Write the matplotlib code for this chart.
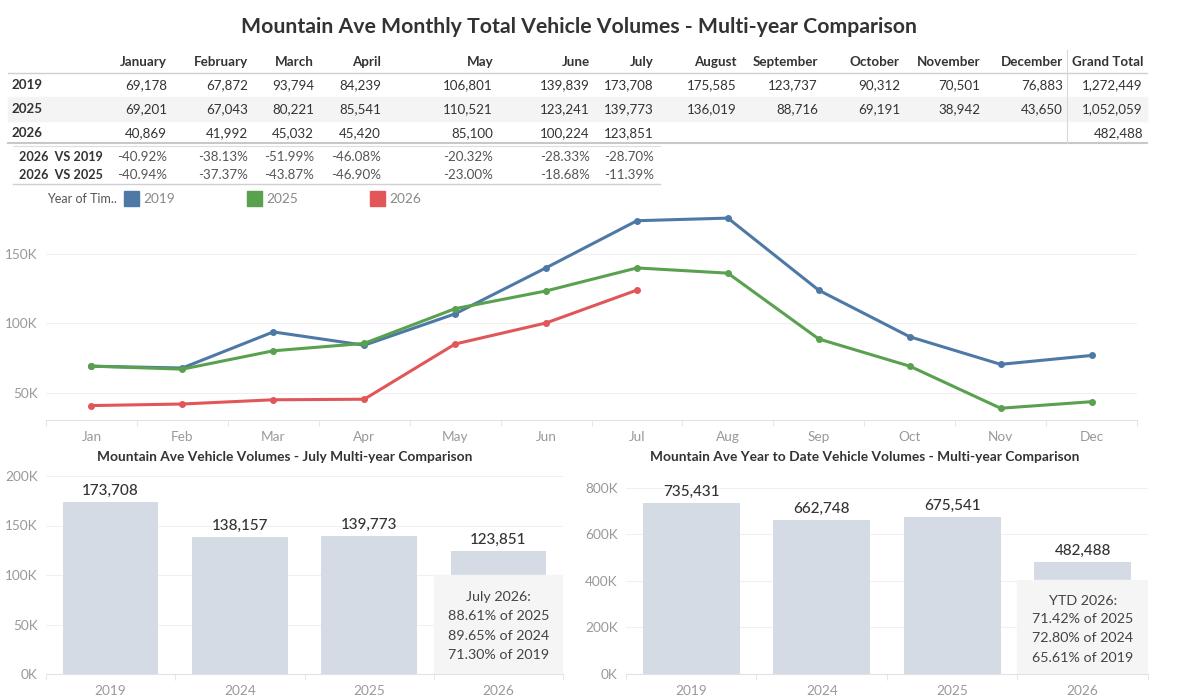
import matplotlib.pyplot as plt
from matplotlib.patches import Rectangle
from matplotlib.ticker import FuncFormatter, FixedLocator

plt.rcParams['font.family'] = ['Lato', 'DejaVu Sans']

# monthly totals
months = ['January', 'February', 'March', 'April', 'May', 'June', 'July',
          'August', 'September', 'October', 'November', 'December']
months_short = ['Jan', 'Feb', 'Mar', 'Apr', 'May', 'Jun', 'Jul',
                'Aug', 'Sep', 'Oct', 'Nov', 'Dec']
vol_2019 = [69178, 67872, 93794, 84239, 106801, 139839, 173708,
            175585, 123737, 90312, 70501, 76883]
vol_2025 = [69201, 67043, 80221, 85541, 110521, 123241, 139773,
            136019, 88716, 69191, 38942, 43650]
vol_2026 = [40869, 41992, 45032, 45420, 85100, 100224, 123851]
grand_total = [1272449, 1052059, 482488]
vs_2019 = [-40.92, -38.13, -51.99, -46.08, -20.32, -28.33, -28.70]
vs_2025 = [-40.94, -37.37, -43.87, -46.90, -23.00, -18.68, -11.39]

# bar charts
bar_years = ['2019', '2024', '2025', '2026']
july_vals = [173708, 138157, 139773, 123851]
ytd_vals = [735431, 662748, 675541, 482488]
july_note = ['July 2026:', '88.61% of 2025', '89.65% of 2024', '71.30% of 2019']
ytd_note = ['YTD 2026:', '71.42% of 2025', '72.80% of 2024', '65.61% of 2019']

c_blue, c_green, c_red = '#4e79a7', '#59a14f', '#e15759'
bar_col = '#d5dbe5'
dark = '#333333'
grey = '#999999'
W, H = 1200, 700
fs_tab = 9.6


def fx(x):
    return x / W


def fy(y):
    return 1 - y / H


fig = plt.figure(figsize=(12, 7), dpi=100)

fig.text(fx(579), fy(27), 'Mountain Ave Monthly Total Vehicle Volumes - Multi-year Comparison',
         ha='center', va='center', fontsize=15.3, fontweight='bold', color=dark)

# ---- table ----
col_right = [167, 248, 314, 381, 493, 590, 654, 737, 818, 900, 980, 1063]
total_right = 1143
row_y = [85, 109, 133]
row_names = ['2019', '2025', '2026']
rows = [vol_2019, vol_2025, vol_2026]

fig.patches.append(Rectangle((fx(8), fy(121)), fx(1147) - fx(8), fy(97) - fy(121),
                             transform=fig.transFigure, color='#f4f4f4', zorder=0))
for m, xr in zip(months, col_right):
    fig.text(fx(xr), fy(62), m, ha='right', va='center', fontsize=fs_tab,
             fontweight='bold', color=dark)
fig.text(fx(total_right), fy(62), 'Grand Total', ha='right', va='center',
         fontsize=fs_tab, fontweight='bold', color=dark)

for name, vals, y, tot in zip(row_names, rows, row_y, grand_total):
    fig.text(fx(12), fy(y), name, ha='left', va='center', fontsize=fs_tab,
             fontweight='bold', color=dark)
    for v, xr in zip(vals, col_right):
        fig.text(fx(xr), fy(y), f'{v:,}', ha='right', va='center', fontsize=fs_tab, color=dark)
    fig.text(fx(total_right), fy(y), f'{tot:,}', ha='right', va='center',
             fontsize=fs_tab, color=dark)

lines = [((8, 1147), 73, '#d0d0d0', 1.0), ((8, 1147), 143, '#c8c8c8', 1.5),
         ((13, 660), 146, '#dddddd', 0.8), ((13, 660), 184, '#d0d0d0', 1.0)]
for (x0, x1), y, col, lw in lines:
    fig.add_artist(plt.Line2D([fx(x0), fx(x1)], [fy(y), fy(y)], color=col, lw=lw))
fig.add_artist(plt.Line2D([fx(1067), fx(1067)], [fy(50), fy(143)], color='#d8d8d8', lw=0.8))

for label, vals, y in [('2026  VS 2019', vs_2019, 157), ('2026  VS 2025', vs_2025, 175)]:
    fig.text(fx(19), fy(y), label, ha='left', va='center', fontsize=9.1,
             fontweight='bold', color=dark)
    for v, xr in zip(vals, col_right):
        fig.text(fx(xr), fy(y), f'{v:.2f}%', ha='right', va='center', fontsize=fs_tab,
                 color='#555555')

# ---- legend ----
fig.text(fx(47), fy(199), 'Year of Tim..', ha='left', va='center', fontsize=9, color='#555555')
for x0, col, lab in [(124, c_blue, '2019'), (247, c_green, '2025'), (370, c_red, '2026')]:
    fig.patches.append(Rectangle((fx(x0), fy(206)), fx(15), fy(191) - fy(206),
                                 transform=fig.transFigure, color=col))
    fig.text(fx(x0 + 19), fy(199), lab, ha='left', va='center', fontsize=9.8, color='#888888')

kfmt = FuncFormatter(lambda v, p: f'{v / 1000:.0f}K')


def style_axis(ax):
    for s in ['top', 'right', 'left']:
        ax.spines[s].set_visible(False)
    ax.spines['bottom'].set_color('#e2e2e2')
    ax.tick_params(axis='y', length=0, labelsize=9.8, labelcolor=grey, pad=6)
    ax.tick_params(axis='x', length=0, labelsize=9.8, labelcolor=grey, pad=8)
    ax.yaxis.set_major_formatter(kfmt)
    ax.grid(axis='y', color='#f0f0f0', lw=0.8)
    ax.set_axisbelow(True)


# ---- line chart ----
ax = fig.add_axes([fx(46), fy(420), fx(1137 - 46), fy(205) - fy(420)])
style_axis(ax)
x_all = range(len(months_short))
ax.plot(x_all, vol_2019, color=c_blue, lw=2.2, marker='o', ms=4)
ax.plot(x_all, vol_2025, color=c_green, lw=2.2, marker='o', ms=4)
ax.plot(range(len(vol_2026)), vol_2026, color=c_red, lw=2.2, marker='o', ms=4)
ax.set_xticks(list(x_all))
ax.set_xticklabels(months_short)
ax.set_xlim(-0.5, 11.5)
ax.set_ylim(30500, 185000)
ax.set_yticks([50000, 100000, 150000])
ax.xaxis.set_minor_locator(FixedLocator([i + 0.5 for i in range(-1, 12)]))
ax.tick_params(axis='x', which='minor', length=4, color='#e2e2e2')


def bar_panel(rect, vals, top, ticks, note, note_top, note_y):
    bx = fig.add_axes(rect)
    style_axis(bx)
    bx.bar(bar_years, vals, width=0.74, color=bar_col, zorder=2)
    for i, v in enumerate(vals):
        bx.annotate(f'{v:,}', (i, v), xytext=(0, 3), textcoords='offset points',
                    ha='center', va='bottom', fontsize=11, fontweight='medium',
                    color=dark, clip_on=False)
    bx.set_xlim(-0.5, 3.5)
    bx.set_ylim(0, top)
    bx.set_yticks(ticks)
    bx.xaxis.set_minor_locator(FixedLocator([-0.5, 0.5, 1.5, 2.5, 3.5]))
    bx.tick_params(axis='x', which='minor', length=4, color='#e2e2e2')
    bx.add_patch(Rectangle((2.5, 0), 1.0, note_top, color='#f5f5f5', zorder=3))
    for j, t in enumerate(note):
        bx.text(3.0, note_y[j], t, ha='center', va='center', fontsize=10.3,
                color='#444444', zorder=4, transform=bx.get_xaxis_transform())
    return bx


ax1 = bar_panel([fx(46), fy(674), fx(563 - 46), fy(476) - fy(674)], july_vals, 200000,
                [0, 50000, 100000, 150000, 200000], july_note, 100000,
                [(674 - y) / (674 - 476) for y in [597, 616, 636, 655]])
fig.text(fx(285), fy(457), 'Mountain Ave Vehicle Volumes - July Multi-year Comparison',
         ha='center', va='center', fontsize=9.9, fontweight='bold', color=dark)

ax2 = bar_panel([fx(626), fy(674), fx(1148 - 626), fy(483) - fy(674)], ytd_vals, 820000,
                [0, 200000, 400000, 600000, 800000], ytd_note, 405000,
                [(674 - y) / (674 - 483) for y in [601, 619, 638, 658]])
fig.text(fx(865), fy(457), 'Mountain Ave Year to Date Vehicle Volumes - Multi-year Comparison',
         ha='center', va='center', fontsize=9.9, fontweight='bold', color=dark)

fig.savefig('out.png', dpi=100, facecolor='white')
